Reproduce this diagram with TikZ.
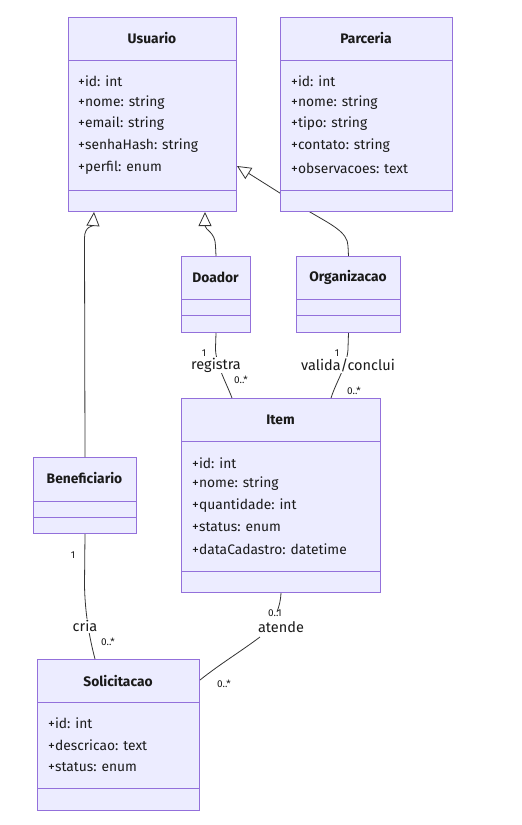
\documentclass[tikz,border=0pt]{standalone}
\usepackage{fontspec}
\setmainfont{Fira Sans}
\usetikzlibrary{arrows.meta,calc}
\definecolor{boxfill}{HTML}{ECECFF}
\definecolor{boxline}{HTML}{9370DB}
\definecolor{ink}{HTML}{333333}
\definecolor{txt}{HTML}{1A1A1A}
\begin{document}
\begin{tikzpicture}[x=1pt,y=-1pt,
  cls/.style={draw=boxline, fill=boxfill, line width=1pt, anchor=north west, inner sep=0pt},
  divline/.style={draw=boxline, line width=1pt},
  ttl/.style={font=\bfseries\fontsize{13.8}{16}\selectfont, text=txt},
  attr/.style={anchor=west, font=\fontsize{13.8}{16}\selectfont, text=txt, inner sep=0pt},
  edge/.style={draw=ink, line width=0.8pt},
  inh/.style={edge, -{Triangle[open, length=14pt, width=13pt, fill=white]}},
  lbl/.style={fill=white, inner sep=1pt, font=\fontsize{14.5}{16}\selectfont, text=txt},
  mult/.style={font=\fontsize{10}{11}\selectfont, inner sep=0pt, text=txt}]
\useasboundingbox[fill=white] (0,0) rectangle (522,825);

% Usuario
\node[cls, minimum width=168pt, minimum height=194pt] (usuario) at (68,17) {};
\draw[divline] (68,60) -- (236,60) (68,190) -- (236,190);
\node[ttl] at (152,38) {Usuario};
\node[attr] at (78,81) {+id: int};
\node[attr] at (78,103) {+nome: string};
\node[attr] at (78,124) {+email: string};
\node[attr] at (78,146) {+senhaHash: string};
\node[attr] at (78,168) {+perfil: enum};

% Organizacao
\node[cls, minimum width=104pt, minimum height=76pt] (org) at (296,256) {};
\draw[divline] (296,299) -- (400,299) (296,315) -- (400,315);
\node[ttl] at (348,277) {Organizacao};

% Organizacao inherits from Usuario (runs behind Parceria)
\draw[inh] (org.north) -- (348,246) .. controls (348,232) and (330,224) .. (310,212)
  -- ($(usuario.south east)+(0,-46)$);

% Parceria
\node[cls, minimum width=172pt, minimum height=194pt] (parceria) at (280,17) {};
\draw[divline] (280,60) -- (452,60) (280,190) -- (452,190);
\node[ttl] at (366,38) {Parceria};
\node[attr] at (291,81) {+id: int};
\node[attr] at (291,103) {+nome: string};
\node[attr] at (291,124) {+tipo: string};
\node[attr] at (291,146) {+contato: string};
\node[attr] at (291,168) {+observacoes: text};

% Doador
\node[cls, minimum width=69pt, minimum height=76pt] (doador) at (181,256) {};
\draw[divline] (181,299) -- (250,299) (181,315) -- (250,315);
\node[ttl] at (215.5,277) {Doador};

% Item
\node[cls, minimum width=199pt, minimum height=194pt] (item) at (181,398) {};
\draw[divline] (181,441) -- (380,441) (181,571) -- (380,571);
\node[ttl] at (280.5,420) {Item};
\node[attr] at (192,463) {+id: int};
\node[attr] at (192,484) {+nome: string};
\node[attr] at (192,506) {+quantidade: int};
\node[attr] at (192,527) {+status: enum};
\node[attr] at (192,549) {+dataCadastro: datetime};

% Beneficiario
\node[cls, minimum width=103pt, minimum height=76pt] (benef) at (33,457) {};
\draw[divline] (33,501) -- (136,501) (33,517) -- (136,517);
\node[ttl] at (84.5,478) {Beneficiario};

% Solicitacao
\node[cls, minimum width=162pt, minimum height=151pt] (solic) at (37,659) {};
\draw[divline] (37,702) -- (199,702) (37,788) -- (199,788);
\node[ttl] at (118,681) {Solicitacao};
\node[attr] at (48,723) {+id: int};
\node[attr] at (48,745) {+descricao: text};
\node[attr] at (48,767) {+status: enum};

% Inheritance
\draw[inh] (benef.north) -- (84.5,238) .. controls (84.5,226) and (93,226) .. ($(usuario.south west)+(26,0)$);
\draw[inh] (doador.north) -- (215.5,246) .. controls (215.5,232) and (205,230) .. ($(usuario.south east)+(-32,0)$);

% Associations
\draw[edge] (doador.south) -- (215.5,348) .. controls (215.5,364) and (226,382) .. ($(item.north west)+(51,0)$);
\node[lbl] (lreg) at (216,365) {registra};
\node[mult] (m1) at (204,353) {1};
\node[mult] (m2) at (241,380) {0..*};

\draw[edge] (org.south) -- (348,348) .. controls (348,364) and (336,382) .. ($(item.north east)+(-50,0)$);
\node[lbl] (lval) at (348,365) {valida/conclui};
\node[mult] (m3) at (337,353) {1};
\node[mult] (m4) at (354,391) {0..*};

\draw[edge] (benef.south) -- (84.5,585) .. controls (85,615) and (90,640) .. ($(solic.north west)+(58,0)$);
\node[lbl] (lcria) at (85,626) {cria};
\node[mult] (m5) at (73,555) {1};
\node[mult] (m6) at (108,642) {0..*};

\draw[edge] (item.south) .. controls (280.5,602) and (279,606) .. (277,612);
\draw[edge] (260,637) .. controls (240,652) and (220,664) .. ($(solic.north east)+(0,21)$);
\node[lbl] (laten) at (281,627) {atende};
\node[mult] (m7) at (275,613) {0..1};
\node[mult] (m8) at (224,684) {0..*};
\end{tikzpicture}
\end{document}
